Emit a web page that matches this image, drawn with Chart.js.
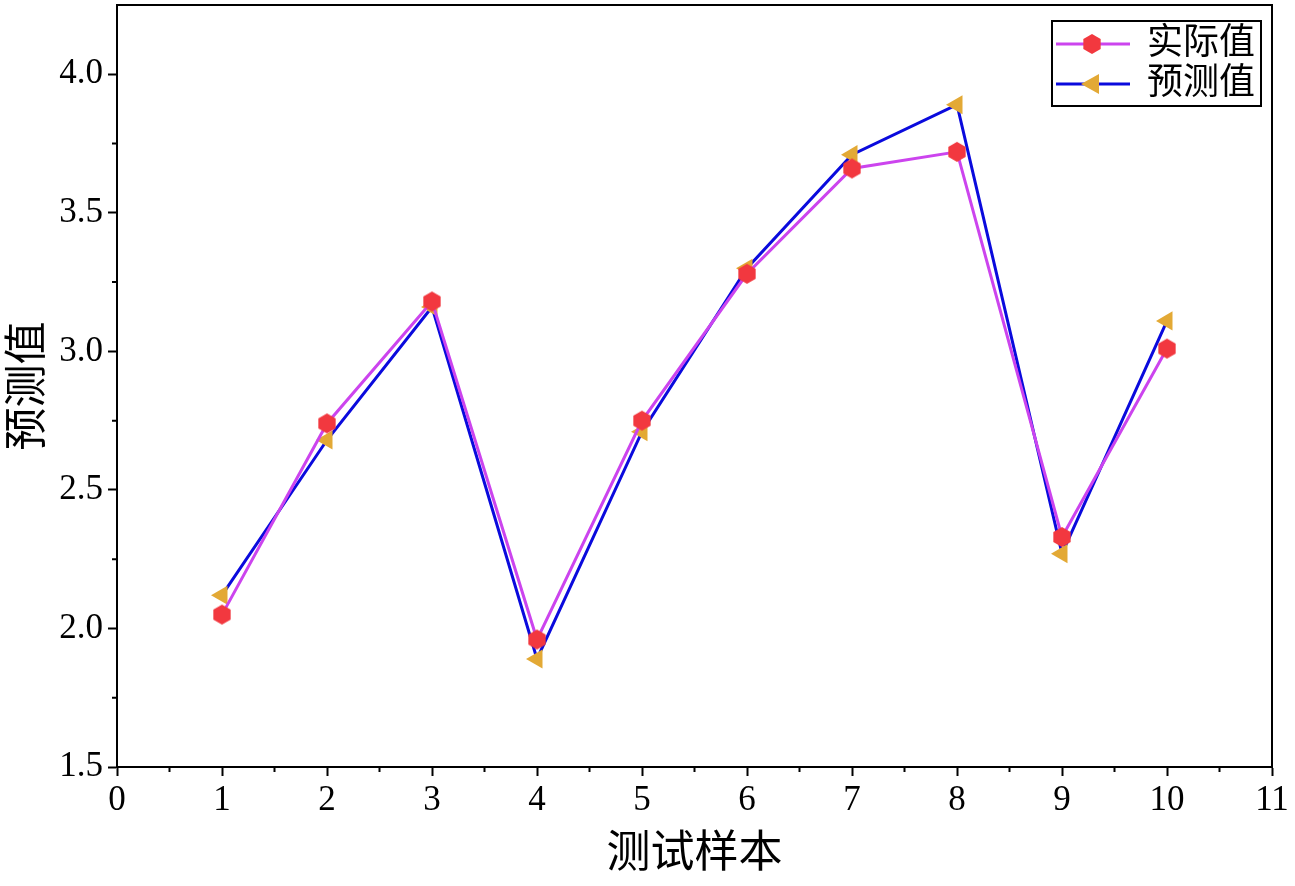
<!DOCTYPE html>
<html>
<head>
<meta charset="utf-8">
<script src="https://cdn.jsdelivr.net/npm/chart.js@4"></script>
<style>
  html, body { margin: 0; padding: 0; background: #fff; }
  #wrap { width: 1295px; height: 886px; }
</style>
</head>
<body>
<div id="wrap"><canvas id="chart" width="1295" height="886"></canvas></div>
<script>
// chart data
const samples = [1, 2, 3, 4, 5, 6, 7, 8, 9, 10];
const actualValues = [2.05, 2.74, 3.18, 1.96, 2.75, 3.28, 3.66, 3.72, 2.33, 3.01];
const predictedValues = [2.12, 2.68, 3.16, 1.89, 2.71, 3.30, 3.71, 3.89, 2.27, 3.11];
const xTicks = [0, 1, 2, 3, 4, 5, 6, 7, 8, 9, 10, 11];
const yTicks = [1.5, 2.0, 2.5, 3.0, 3.5, 4.0];
const seriesNames = ['实际值', '预测值'];

const serif = '"Liberation Serif", "Times New Roman", serif';
const cjk = '"Liberation Serif", "Noto Sans CJK SC", serif';

// hexagon marker (point up)
function makeHexagon(r, color) {
    const c = document.createElement('canvas');
    c.width = r * 2 + 2;
    c.height = r * 2 + 2;
    const ctx = c.getContext('2d');
    ctx.fillStyle = color;
    ctx.beginPath();
    for (let i = 0; i < 6; i++) {
        const a = Math.PI / 2 + i * Math.PI / 3;
        const px = r + 1 + r * Math.cos(a);
        const py = r + 1 + r * Math.sin(a);
        if (i === 0) ctx.moveTo(px, py); else ctx.lineTo(px, py);
    }
    ctx.closePath();
    ctx.fill();
    return c;
}
const hexMarker = makeHexagon(10, '#F2383F');

// frame + minor ticks
const framePlugin = {
    id: 'frame',
    afterDraw(chart) {
        const ctx = chart.ctx;
        const a = chart.chartArea;
        const xs = chart.scales.x, ys = chart.scales.y;
        ctx.save();
        ctx.strokeStyle = '#000';
        ctx.lineWidth = 2;
        ctx.strokeRect(a.left, a.top, a.right - a.left, a.bottom - a.top);
        ctx.beginPath();
        for (let v = 0.5; v < 11; v += 1) {
            const px = xs.getPixelForValue(v);
            ctx.moveTo(px, a.bottom);
            ctx.lineTo(px, a.bottom + 5);
        }
        for (let v = 1.75; v < 4.25; v += 0.5) {
            const py = ys.getPixelForValue(v);
            ctx.moveTo(a.left, py);
            ctx.lineTo(a.left - 5, py);
        }
        ctx.stroke();
        ctx.restore();
    }
};

// boxed legend top-right
const legendPlugin = {
    id: 'boxLegend',
    afterDraw(chart) {
        const ctx = chart.ctx;
        const x0 = 1052, y0 = 21, w = 209, h = 85;
        ctx.save();
        ctx.strokeStyle = '#000';
        ctx.lineWidth = 2;
        ctx.fillStyle = '#fff';
        ctx.fillRect(x0, y0, w, h);
        ctx.strokeRect(x0, y0, w, h);
        const rows = [44, 84];
        chart.data.datasets.forEach((ds, i) => {
            const y = rows[i];
            ctx.strokeStyle = ds.borderColor;
            ctx.lineWidth = 3;
            ctx.beginPath();
            ctx.moveTo(1056, y);
            ctx.lineTo(1130, y);
            ctx.stroke();
            if (i === 0) {
                ctx.drawImage(hexMarker, 1092 - hexMarker.width / 2, y - hexMarker.height / 2);
            } else {
                ctx.fillStyle = ds.pointBackgroundColor;
                ctx.beginPath();
                ctx.moveTo(1081, y);
                ctx.lineTo(1099, y - 10);
                ctx.lineTo(1099, y + 10);
                ctx.closePath();
                ctx.fill();
            }
            ctx.fillStyle = '#000';
            ctx.font = '36px ' + cjk;
            ctx.textBaseline = 'middle';
            ctx.textAlign = 'left';
            ctx.fillText(ds.label, 1147, y + 1);
        });
        ctx.restore();
    }
};

new Chart(document.getElementById('chart'), {
    type: 'line',
    data: {
        datasets: [{
            label: seriesNames[0],
            data: samples.map((s, i) => ({ x: s, y: actualValues[i] })),
            borderColor: '#CC44EE',
            borderWidth: 3,
            pointStyle: hexMarker,
            pointBackgroundColor: '#F2383F',
            tension: 0
        }, {
            label: seriesNames[1],
            data: samples.map((s, i) => ({ x: s, y: predictedValues[i] })),
            borderColor: '#0A0ADD',
            borderWidth: 3,
            pointStyle: 'triangle',
            rotation: -90,
            pointRadius: 11,
            pointBorderWidth: 0,
            pointBackgroundColor: '#E3A935',
            pointBorderColor: '#E3A935',
            tension: 0
        }]
    },
    options: {
        responsive: false,
        animation: false,
        layout: { autoPadding: false, padding: { top: 5, right: 23, left: 0, bottom: 0 } },
        plugins: {
            legend: { display: false },
            tooltip: { enabled: false }
        },
        scales: {
            x: {
                type: 'linear',
                min: 0,
                max: 11,
                afterBuildTicks: s => { s.ticks = xTicks.map(v => ({ value: v })); },
                afterFit: s => { s.height = 119; s.paddingLeft = 0; s.paddingRight = 0; },
                grid: { drawOnChartArea: false, tickLength: 9, tickColor: '#000', tickWidth: 2 },
                border: { color: '#000', width: 2 },
                ticks: { color: '#000', font: { family: serif, size: 35 }, padding: 4, maxRotation: 0 },
                title: { display: true, text: '测试样本', color: '#000', font: { family: cjk, size: 44 }, padding: { top: 0 } }
            },
            y: {
                min: 1.5,
                max: 4.25,
                afterBuildTicks: s => { s.ticks = yTicks.map(v => ({ value: v })); },
                afterFit: s => { s.width = 117; s.paddingTop = 0; s.paddingBottom = 0; },
                grid: { drawOnChartArea: false, tickLength: 9, tickColor: '#000', tickWidth: 2 },
                border: { color: '#000', width: 2 },
                ticks: { color: '#000', font: { family: serif, size: 35 }, padding: 5, callback: v => v.toFixed(1) },
                title: { display: true, text: '预测值', color: '#000', font: { family: cjk, size: 43 }, padding: { bottom: 10 } }
            }
        }
    },
    plugins: [framePlugin, legendPlugin]
});
</script>
</body>
</html>
